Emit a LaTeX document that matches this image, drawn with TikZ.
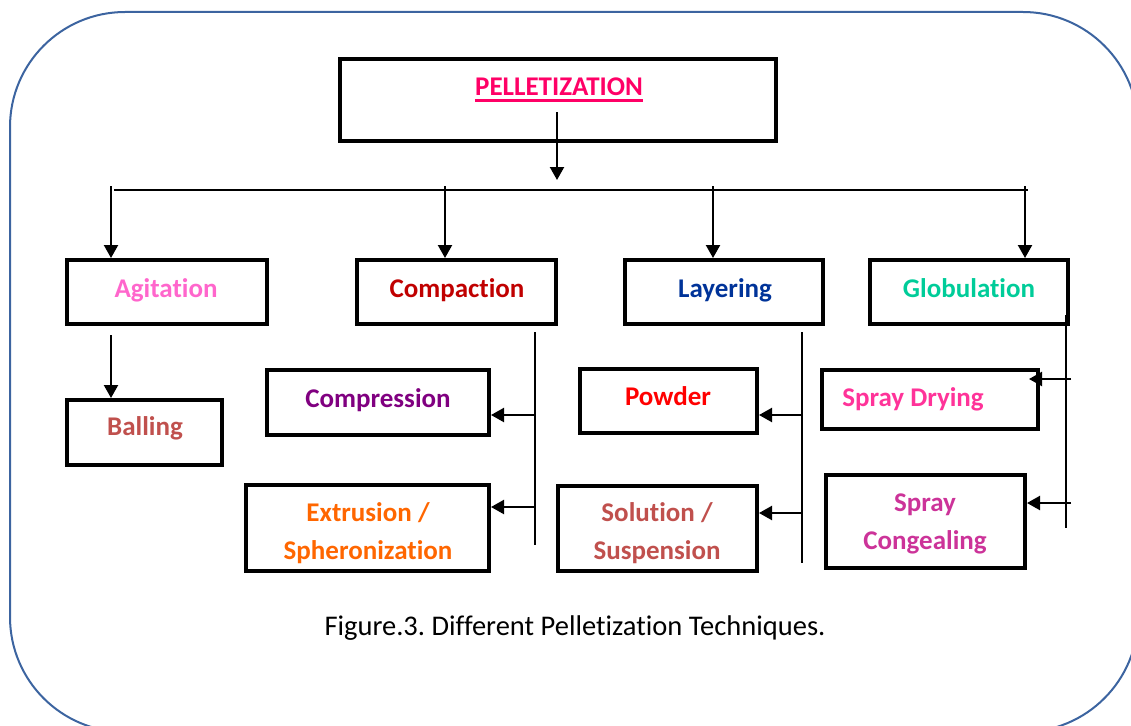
\documentclass[tikz,border=0pt]{standalone}
\usepackage{fontspec}
\setmainfont{Carlito}[Ligatures=NoCommon]
\usetikzlibrary{arrows.meta}
\definecolor{framecol}{RGB}{60,100,160}
\definecolor{pelcol}{HTML}{FF0066}
\definecolor{agitcol}{HTML}{FF66CC}
\definecolor{compcol}{HTML}{C00000}
\definecolor{laycol}{HTML}{003399}
\definecolor{globcol}{HTML}{00CC99}
\definecolor{ballcol}{HTML}{C0504D}
\definecolor{cmprcol}{HTML}{800080}
\definecolor{extrcol}{HTML}{FF6600}
\definecolor{powdcol}{HTML}{FF0000}
\definecolor{solcol}{HTML}{C0504D}
\definecolor{sdrycol}{HTML}{FF3399}
\definecolor{sconcol}{HTML}{CC3399}
\frenchspacing
\begin{document}
\begin{tikzpicture}[x=1pt,y=-1pt,
  box/.style={draw, line width=4pt, inner sep=0pt},
  lbl/.style={font=\fontsize{27}{38}\selectfont\bfseries, inner sep=0pt, anchor=base, align=center},
  arr/.style={line width=2.2pt, -{Triangle[width=14pt,length=13pt]}},
  spine/.style={line width=1.6pt}]
\useasboundingbox (0,0) rectangle (1131,725);
\clip (0,0) rectangle (1131,725);
\draw[framecol, line width=2pt, rounded corners=115pt] (10,12) rectangle (1138,732);

\node[box, minimum width=436pt, minimum height=82pt] (pel) at (558,100) {};
\node[box, minimum width=200pt, minimum height=64pt] (agit) at (167,292) {};
\node[box, minimum width=199pt, minimum height=64pt] (comp) at (456.5,292) {};
\node[box, minimum width=198pt, minimum height=64pt] (layer) at (724,292) {};
\node[box, minimum width=198pt, minimum height=64pt] (glob) at (969,292) {};
\node[box, minimum width=155pt, minimum height=65pt] (ball) at (144.5,432.5) {};
\node[box, minimum width=222pt, minimum height=65pt] (cmpr) at (378,402.5) {};
\node[box, minimum width=243pt, minimum height=86pt] (extr) at (367.5,528) {};
\node[box, minimum width=177pt, minimum height=64pt] (powd) at (668.5,401) {};
\node[box, minimum width=199pt, minimum height=85pt] (soln) at (657.5,528.5) {};
\node[box, minimum width=216pt, minimum height=59pt] (sdry) at (930,399.5) {};
\node[box, minimum width=199pt, minimum height=93pt] (scon) at (925.5,521.5) {};

\node[lbl, text=pelcol] (peltxt) at (559,95) {PELLETIZATION};
\draw[pelcol, line width=3pt] ([yshift=-5pt]peltxt.base west) -- ([yshift=-5pt]peltxt.base east);
\node[lbl, text=agitcol] (agittxt) at (166,297) {Agitation};
\node[lbl, text=compcol] (comptxt) at (457,297) {Compaction};
\node[lbl, text=laycol] (laytxt) at (725,297) {Layering};
\node[lbl, text=globcol] (globtxt) at (969,297) {Globulation};
\node[lbl, text=ballcol] (balltxt) at (145,435) {Balling};
\node[lbl, text=cmprcol] (cmprtxt) at (378,407) {Compression};
\node[lbl, text=extrcol] (extrtxt) at (368,559) {Extrusion /\\Spheronization};
\node[lbl, text=powdcol] (powdtxt) at (668,405) {Powder};
\node[lbl, text=solcol] (soltxt) at (657,559) {Solution /\\Suspension};
\node[lbl, text=sdrycol] (sdrytxt) at (913,406) {Spray Drying};
\node[lbl, text=sconcol] (scontxt) at (925,549) {Spray\\Congealing};
\node[font=\fontsize{28.5}{34}\selectfont, inner sep=0pt, anchor=base] (caption) at (575,635) {Figure.3. Different Pelletization Techniques.};

\coordinate (pelstem) at (557,112);
\coordinate (busin) at (557,180);
\draw[arr] (pelstem) -- (busin);
\coordinate (busL) at (114,190);
\coordinate (busR) at (1028,190);
\draw[line width=1.8pt] (busL) -- (busR);
\foreach \x/\n in {111/agit,445/comp,713/layer,1025/glob}{
  \coordinate (d\n) at (\x,186);
  \draw[arr] (d\n) -- (d\n |- \n.north);
}
\coordinate (dball) at (111,335);
\draw[arr] (dball) -- (dball |- ball.north);

\coordinate (cs0) at (535,332);
\coordinate (cs1) at (535,545);
\draw[spine] (cs0) -- (cs1);
\coordinate (cb1) at (535,415);
\coordinate (cb2) at (535,507);
\draw[arr] (cb1) -- (cb1 -| cmpr.east);
\draw[arr] (cb2) -- (cb2 -| extr.east);

\coordinate (ls0) at (802,332);
\coordinate (ls1) at (802,563);
\draw[spine] (ls0) -- (ls1);
\coordinate (lb1) at (802,415);
\coordinate (lb2) at (802,513);
\draw[arr] (lb1) -- (lb1 -| powd.east);
\draw[arr] (lb2) -- (lb2 -| soln.east);

\coordinate (gs0) at (1066,315);
\coordinate (gs1) at (1066,528);
\draw[spine] (gs0) -- (gs1);
\coordinate (gb1) at (1071,379);
\coordinate (gb2) at (1071,503);
\draw[arr] (gb1) -- ([xshift=-11pt]gb1 -| sdry.east);
\draw[arr] (gb2) -- (gb2 -| scon.east);
\end{tikzpicture}
\end{document}
